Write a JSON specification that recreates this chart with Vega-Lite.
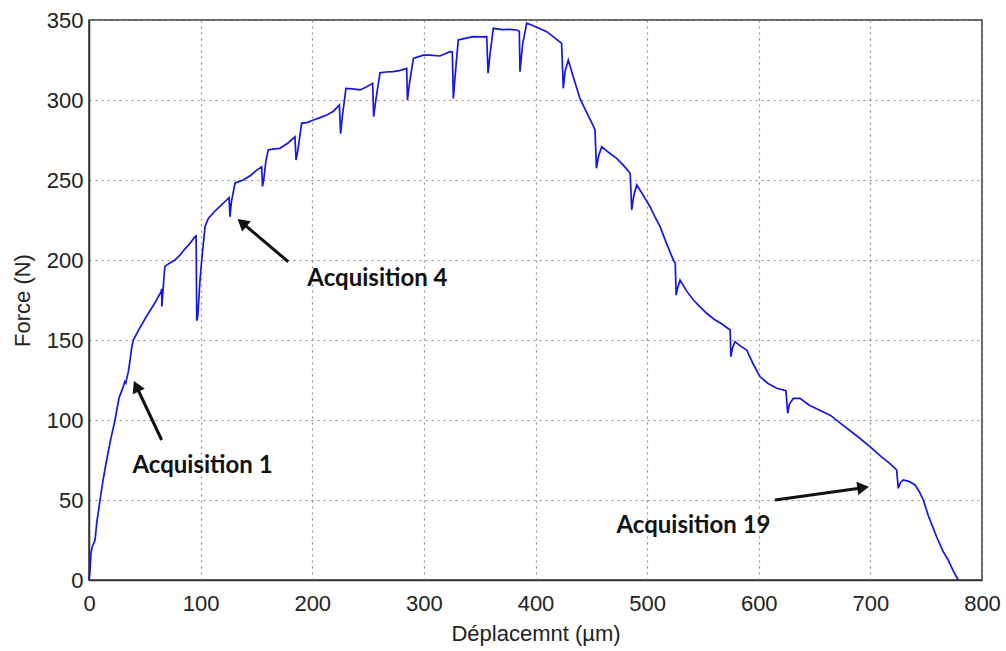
{
  "$schema": "https://vega.github.io/schema/vega-lite/v6.json",
  "width": 893,
  "height": 560,
  "autosize": {"type": "none"},
  "padding": {"left": 89, "top": 20, "right": 24, "bottom": 71},
  "background": "white",
  "config": {
    "view": {"stroke": "#333333", "strokeWidth": 1.5},
    "axis": {
      "labelFont": "Liberation Sans",
      "labelFontSize": 22,
      "labelColor": "#222222",
      "titleFont": "Liberation Sans",
      "titleFontSize": 22,
      "titleFontWeight": "normal",
      "titleColor": "#222222",
      "domainColor": "#333333",
      "domainWidth": 1.5,
      "ticks": false,
      "grid": true,
      "gridColor": "#8a8a8a",
      "gridDash": [2, 4],
      "gridWidth": 1.2,
      "gridOpacity": 1
    }
  },
  "datasets": {
    "curve": [
      {"x": 0, "y": 0}, {"x": 0.9, "y": 6}, {"x": 1.8, "y": 17}, {"x": 3, "y": 21}, {"x": 5.4, "y": 25},
      {"x": 7, "y": 36}, {"x": 9.9, "y": 50}, {"x": 12.5, "y": 62}, {"x": 15.8, "y": 75}, {"x": 19.5, "y": 88},
      {"x": 23.3, "y": 100}, {"x": 27, "y": 114}, {"x": 30.8, "y": 121}, {"x": 32, "y": 124}, {"x": 33, "y": 123},
      {"x": 33.8, "y": 126}, {"x": 35.2, "y": 130}, {"x": 36.7, "y": 137}, {"x": 38.2, "y": 145}, {"x": 39.7, "y": 150},
      {"x": 45, "y": 157}, {"x": 51.7, "y": 165}, {"x": 58, "y": 172}, {"x": 64.5, "y": 180}, {"x": 65.1, "y": 182},
      {"x": 65.3, "y": 171}, {"x": 65.8, "y": 176}, {"x": 67, "y": 188}, {"x": 68, "y": 196}, {"x": 72, "y": 198},
      {"x": 77, "y": 200}, {"x": 81.5, "y": 203}, {"x": 86, "y": 207}, {"x": 90, "y": 210}, {"x": 95, "y": 214.6},
      {"x": 96, "y": 215}, {"x": 96.5, "y": 162}, {"x": 97.5, "y": 165}, {"x": 99.4, "y": 187}, {"x": 101, "y": 200},
      {"x": 104, "y": 221}, {"x": 106.9, "y": 226}, {"x": 112, "y": 230}, {"x": 118, "y": 234}, {"x": 123.3, "y": 237.5},
      {"x": 125.5, "y": 239}, {"x": 126.3, "y": 227}, {"x": 127.5, "y": 236}, {"x": 130.8, "y": 248}, {"x": 134, "y": 249},
      {"x": 138.3, "y": 250}, {"x": 145, "y": 253}, {"x": 150, "y": 256}, {"x": 154.7, "y": 258.3}, {"x": 155.4, "y": 246},
      {"x": 156.5, "y": 250}, {"x": 158.5, "y": 262}, {"x": 160.6, "y": 268.8}, {"x": 166, "y": 269.5}, {"x": 171, "y": 269.8},
      {"x": 178, "y": 273}, {"x": 184.5, "y": 277}, {"x": 185.5, "y": 262.5}, {"x": 187, "y": 268}, {"x": 190.5, "y": 285.4},
      {"x": 196, "y": 286}, {"x": 201, "y": 287.5}, {"x": 207, "y": 289}, {"x": 213, "y": 290.6}, {"x": 219, "y": 293},
      {"x": 224.3, "y": 296.9}, {"x": 225.4, "y": 279}, {"x": 227, "y": 290}, {"x": 230.2, "y": 307.3}, {"x": 236, "y": 307},
      {"x": 242.8, "y": 306.3}, {"x": 248, "y": 308}, {"x": 254.1, "y": 310.4}, {"x": 255, "y": 289.6}, {"x": 257, "y": 300},
      {"x": 260.7, "y": 317}, {"x": 266, "y": 317.5}, {"x": 272.6, "y": 317.7}, {"x": 279, "y": 318.5}, {"x": 284.6, "y": 319.8},
      {"x": 285.3, "y": 300}, {"x": 287, "y": 310}, {"x": 290.6, "y": 326}, {"x": 299.5, "y": 328}, {"x": 305.5, "y": 328},
      {"x": 314.4, "y": 327.5}, {"x": 323.4, "y": 330.2}, {"x": 325.5, "y": 330}, {"x": 326.4, "y": 301}, {"x": 328, "y": 315},
      {"x": 330.8, "y": 337.5}, {"x": 337, "y": 338.5}, {"x": 344.3, "y": 339.6}, {"x": 350, "y": 339.5}, {"x": 356.3, "y": 339.6},
      {"x": 357.5, "y": 316.7}, {"x": 359.5, "y": 330}, {"x": 362.2, "y": 344.8}, {"x": 370, "y": 344}, {"x": 377, "y": 344.2},
      {"x": 383.1, "y": 343.75}, {"x": 385.5, "y": 343}, {"x": 386.1, "y": 317.7}, {"x": 388.5, "y": 335}, {"x": 392.1, "y": 348},
      {"x": 396, "y": 347}, {"x": 401, "y": 345.5}, {"x": 410, "y": 342.7}, {"x": 417, "y": 339}, {"x": 423.4, "y": 335.4},
      {"x": 424.9, "y": 307.3}, {"x": 426.5, "y": 318}, {"x": 429.4, "y": 325}, {"x": 433.8, "y": 314.6}, {"x": 439.8, "y": 301},
      {"x": 446, "y": 292}, {"x": 451, "y": 285}, {"x": 453.3, "y": 281.25}, {"x": 454.6, "y": 257.3}, {"x": 456.5, "y": 265},
      {"x": 459.3, "y": 270.8}, {"x": 466, "y": 267}, {"x": 472.7, "y": 263.5}, {"x": 479, "y": 259}, {"x": 484.8, "y": 254.2},
      {"x": 486.2, "y": 231.25}, {"x": 488, "y": 240}, {"x": 490.7, "y": 246.9}, {"x": 496, "y": 241}, {"x": 502.6, "y": 233.3},
      {"x": 507, "y": 227}, {"x": 511.6, "y": 220.8}, {"x": 517, "y": 211}, {"x": 523.5, "y": 200}, {"x": 525.2, "y": 198},
      {"x": 526, "y": 178}, {"x": 527.5, "y": 183}, {"x": 529.5, "y": 187.5}, {"x": 535, "y": 181}, {"x": 541.4, "y": 175},
      {"x": 547, "y": 171}, {"x": 553.3, "y": 166.7}, {"x": 560, "y": 163}, {"x": 567, "y": 160}, {"x": 574.4, "y": 156.25},
      {"x": 575, "y": 139.6}, {"x": 576.5, "y": 145}, {"x": 578.7, "y": 149}, {"x": 584, "y": 146}, {"x": 589.2, "y": 143.75},
      {"x": 595, "y": 135}, {"x": 601.2, "y": 127}, {"x": 608, "y": 123}, {"x": 616.1, "y": 119.8}, {"x": 624.4, "y": 118.3},
      {"x": 625.9, "y": 104.2}, {"x": 627.5, "y": 110}, {"x": 631, "y": 113.5}, {"x": 637, "y": 113.5}, {"x": 645, "y": 109.4},
      {"x": 655, "y": 106}, {"x": 664, "y": 103}, {"x": 675, "y": 97}, {"x": 688, "y": 90}, {"x": 699.6, "y": 83.3},
      {"x": 710, "y": 77}, {"x": 717, "y": 73}, {"x": 723.5, "y": 68.75}, {"x": 725, "y": 57.3}, {"x": 727, "y": 61},
      {"x": 729.5, "y": 62.5}, {"x": 735, "y": 61.5}, {"x": 740, "y": 59.4}, {"x": 744, "y": 55}, {"x": 747.4, "y": 50},
      {"x": 752, "y": 40}, {"x": 756, "y": 33}, {"x": 759.3, "y": 27}, {"x": 765, "y": 18}, {"x": 769.7, "y": 12.5},
      {"x": 774, "y": 6}, {"x": 778.7, "y": 0}
    ],
    "arrows": [
      {"x": 65.1, "y": 87.5, "x2": 42.4, "y2": 121.1, "hx": 42.4, "hy": 121.1, "angle": 334.7},
      {"x": 178.5, "y": 198.9, "x2": 137.1, "y2": 223.3, "hx": 137.1, "hy": 223.3, "angle": 310},
      {"x": 614.6, "y": 50, "x2": 693.5, "y2": 57.7, "hx": 693.5, "hy": 57.7, "angle": 82}
    ],
    "labels": [
      {"x": 101.7, "y": 66.9, "text": "Acquisition 1"},
      {"x": 258.4, "y": 183.75, "text": "Acquisition 4"},
      {"x": 541.5, "y": 29.4, "text": "Acquisition 19"}
    ]
  },
  "encoding": {
    "x": {
      "field": "x", "type": "quantitative",
      "scale": {"domain": [0, 800], "nice": false, "zero": false},
      "axis": {"title": "Déplacemnt (µm)", "values": [0, 100, 200, 300, 400, 500, 600, 700, 800], "labelPadding": 13, "labelFlush": false, "titleY": 60, "titleBaseline": "alphabetic"}
    },
    "y": {
      "field": "y", "type": "quantitative",
      "scale": {"domain": [0, 350], "nice": false, "zero": false},
      "axis": {"title": "Force (N)", "values": [0, 50, 100, 150, 200, 250, 300, 350], "labelPadding": 6, "labelFlush": false, "titleX": -67, "titleY": 280, "titleBaseline": "middle"}
    }
  },
  "layer": [
    {
      "data": {"name": "curve"},
      "mark": {"type": "line", "color": "#1515e6", "strokeWidth": 1.7, "interpolate": "linear"}
    },
    {
      "data": {"name": "arrows"},
      "mark": {"type": "rule", "color": "#111111", "strokeWidth": 3},
      "encoding": {"x2": {"field": "x2"}, "y2": {"field": "y2"}}
    },
    {
      "data": {"name": "arrows"},
      "mark": {"type": "point", "shape": "triangle-up", "filled": true, "color": "#111111", "opacity": 1, "size": 180},
      "encoding": {
        "x": {"field": "hx", "type": "quantitative"},
        "y": {"field": "hy", "type": "quantitative"},
        "angle": {"field": "angle", "type": "quantitative", "scale": null}
      }
    },
    {
      "data": {"name": "labels"},
      "mark": {"type": "text", "font": "Lato", "fontSize": 24, "fontWeight": "bold", "color": "#111111", "align": "center", "baseline": "alphabetic"},
      "encoding": {"text": {"field": "text"}}
    }
  ]
}
